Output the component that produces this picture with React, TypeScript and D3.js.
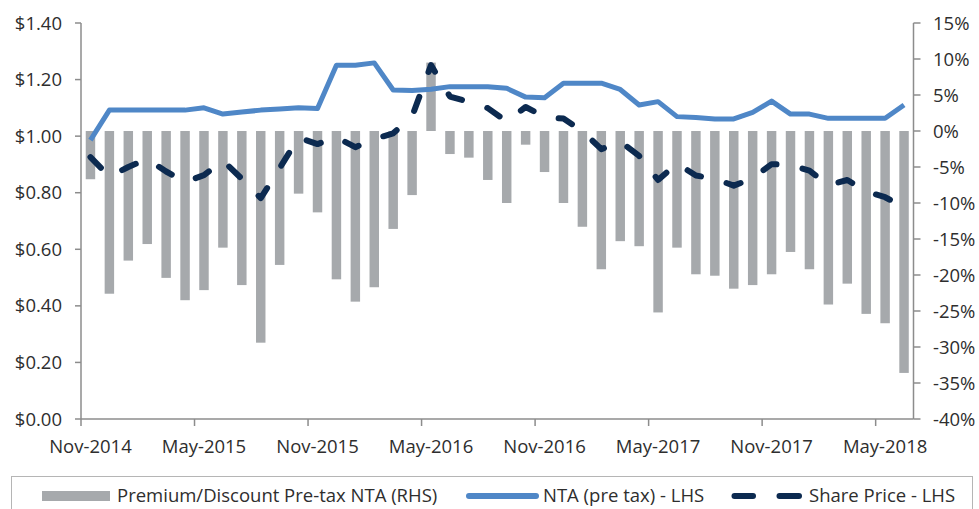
import React, { useRef, useEffect } from 'react';
import * as d3 from 'd3';

const months = [
  'Nov-2014', 'Dec-2014', 'Jan-2015', 'Feb-2015', 'Mar-2015', 'Apr-2015', 'May-2015', 'Jun-2015',
  'Jul-2015', 'Aug-2015', 'Sep-2015', 'Oct-2015', 'Nov-2015', 'Dec-2015', 'Jan-2016', 'Feb-2016',
  'Mar-2016', 'Apr-2016', 'May-2016', 'Jun-2016', 'Jul-2016', 'Aug-2016', 'Sep-2016', 'Oct-2016',
  'Nov-2016', 'Dec-2016', 'Jan-2017', 'Feb-2017', 'Mar-2017', 'Apr-2017', 'May-2017', 'Jun-2017',
  'Jul-2017', 'Aug-2017', 'Sep-2017', 'Oct-2017', 'Nov-2017', 'Dec-2017', 'Jan-2018', 'Feb-2018',
  'Mar-2018', 'Apr-2018', 'May-2018', 'Jun-2018'
];

// premium / discount to pre-tax NTA, in % (RHS)
const premium = [
  -6.7, -22.6, -18.0, -15.7, -20.4, -23.5, -22.1, -16.2, -21.4, -29.4,
  -18.6, -8.7, -11.3, -20.6, -23.7, -21.7, -13.6, -8.9, 9.5, -3.2,
  -3.7, -6.8, -10.0, -1.9, -5.7, -10.0, -13.3, -19.2, -15.3, -16.0,
  -25.2, -16.2, -19.9, -20.1, -21.9, -21.4, -19.9, -16.8, -19.2, -24.1,
  -21.2, -25.4, -26.7, -33.6
];

// NTA (pre tax), $ (LHS)
const nta = [
  0.986, 1.092, 1.092, 1.092, 1.092, 1.092, 1.100, 1.078, 1.085, 1.092,
  1.096, 1.100, 1.098, 1.251, 1.251, 1.259, 1.163, 1.161, 1.166, 1.175,
  1.175, 1.175, 1.169, 1.138, 1.136, 1.187, 1.187, 1.187, 1.165, 1.110,
  1.122, 1.069, 1.066, 1.061, 1.061, 1.084, 1.124, 1.078, 1.078, 1.063,
  1.063, 1.063, 1.063, 1.110
];

// share price, $ (LHS)
const sharePrice = [
  0.926, 0.857, 0.891, 0.919, 0.875, 0.838, 0.862, 0.914, 0.849, 0.781,
  0.887, 0.995, 0.972, 0.996, 0.961, 0.990, 1.010, 1.070, 1.251, 1.140,
  1.121, 1.099, 1.052, 1.103, 1.068, 1.062, 1.018, 0.954, 0.981, 0.930,
  0.845, 0.903, 0.861, 0.849, 0.825, 0.851, 0.901, 0.898, 0.878, 0.827,
  0.845, 0.804, 0.784, 0.749
];

const xTickLabels = ['Nov-2014', 'May-2015', 'Nov-2015', 'May-2016', 'Nov-2016', 'May-2017', 'Nov-2017', 'May-2018'];
const leftTicks = [0, 0.2, 0.4, 0.6, 0.8, 1.0, 1.2, 1.4];
const rightTicks = [-40, -35, -30, -25, -20, -15, -10, -5, 0, 5, 10, 15];

const W = 979;
const H = 509;
const FONT = "'Open Sans', sans-serif";
const FS = '18.5px';
const TEXT = '#2e2e2e';
const AXIS = '#8c8c8c';
const BAR = '#a6a9ac';
const BLUE = '#4f87c7';
const NAVY = '#0c2a50';

const App = () => {
  const svgRef = useRef<SVGSVGElement>(null);

  useEffect(() => {
    const svg = d3.select(svgRef.current);
    svg.selectAll('*').remove();

    const left = 81, right = 913.5, top = 23, bottom = 419;

    const x = d3.scaleBand<string>()
      .domain(months)
      .range([left, right])
      .paddingInner(0.5)
      .paddingOuter(0.25);
    const step = x.step();
    const cx = (m: string) => (x(m) as number) + x.bandwidth() / 2;

    const yL = d3.scaleLinear().domain([0, 1.4]).range([bottom, top]);
    const yR = d3.scaleLinear().domain([-40, 15]).range([bottom, top]);

    // bars
    svg.append('g')
      .selectAll('rect')
      .data(premium)
      .enter()
      .append('rect')
      .attr('x', (d, i) => x(months[i]) as number)
      .attr('width', x.bandwidth())
      .attr('y', d => yR(Math.max(0, d)))
      .attr('height', d => Math.abs(yR(d) - yR(0)))
      .attr('fill', BAR);

    // axes lines
    const axes = svg.append('g').attr('stroke', AXIS).attr('stroke-width', 1.5);
    axes.append('line').attr('x1', left).attr('x2', left).attr('y1', top).attr('y2', bottom);
    axes.append('line').attr('x1', right).attr('x2', right).attr('y1', top).attr('y2', bottom);
    axes.append('line').attr('x1', left).attr('x2', right).attr('y1', bottom).attr('y2', bottom);

    axes.selectAll('.lt')
      .data(leftTicks)
      .enter()
      .append('line')
      .attr('x1', left - 6).attr('x2', left)
      .attr('y1', d => yL(d)).attr('y2', d => yL(d));
    axes.selectAll('.rt')
      .data(rightTicks)
      .enter()
      .append('line')
      .attr('x1', right).attr('x2', right + 7)
      .attr('y1', d => yR(d)).attr('y2', d => yR(d));
    axes.selectAll('.bt')
      .data(xTickLabels)
      .enter()
      .append('line')
      .attr('x1', d => (x(d) as number) - (step - x.bandwidth()) / 2)
      .attr('x2', d => (x(d) as number) - (step - x.bandwidth()) / 2)
      .attr('y1', bottom).attr('y2', bottom + 7);

    // tick labels
    svg.append('g')
      .selectAll('text')
      .data(leftTicks)
      .enter()
      .append('text')
      .attr('x', 62)
      .attr('y', d => yL(d) + 6.5)
      .attr('text-anchor', 'end')
      .style('font-family', FONT)
      .style('font-size', FS)
      .style('fill', TEXT)
      .text(d => '$' + d.toFixed(2));

    svg.append('g')
      .selectAll('text')
      .data(rightTicks)
      .enter()
      .append('text')
      .attr('x', 933)
      .attr('y', d => yR(d) + 6.5)
      .style('font-family', FONT)
      .style('font-size', FS)
      .style('fill', TEXT)
      .text(d => d + '%');

    svg.append('g')
      .selectAll('text')
      .data(xTickLabels)
      .enter()
      .append('text')
      .attr('x', d => cx(d))
      .attr('y', 453)
      .attr('text-anchor', 'middle')
      .style('font-family', FONT)
      .style('font-size', FS)
      .style('fill', TEXT)
      .text(d => d);

    // lines
    const line = d3.line<number>()
      .x((d, i) => cx(months[i]))
      .y(d => yL(d));

    svg.append('path')
      .attr('d', line(nta))
      .attr('fill', 'none')
      .attr('stroke', BLUE)
      .attr('stroke-width', 5)
      .attr('stroke-linejoin', 'round');

    svg.append('path')
      .attr('d', line(sharePrice))
      .attr('fill', 'none')
      .attr('stroke', NAVY)
      .attr('stroke-width', 6)
      .attr('stroke-linecap', 'round')
      .attr('stroke-linejoin', 'round')
      .attr('stroke-dasharray', '15 26.5');

    // legend
    const lg = svg.append('g');
    lg.append('rect')
      .attr('x', 11.5).attr('y', 476.5)
      .attr('width', 961).attr('height', 60)
      .attr('fill', 'none')
      .attr('stroke', '#b5b5b5');

    lg.append('rect')
      .attr('x', 42).attr('y', 491).attr('width', 68).attr('height', 10)
      .attr('fill', BAR);
    lg.append('line')
      .attr('x1', 469).attr('x2', 536).attr('y1', 496).attr('y2', 496)
      .attr('stroke', BLUE).attr('stroke-width', 6).attr('stroke-linecap', 'round');
    [[734.5, 753], [779.5, 799]].forEach(([a, b]) => {
      lg.append('line')
        .attr('x1', a).attr('x2', b).attr('y1', 496).attr('y2', 496)
        .attr('stroke', NAVY).attr('stroke-width', 6).attr('stroke-linecap', 'round');
    });

    const legendText = [
      { x: 117, label: 'Premium/Discount Pre-tax NTA (RHS)' },
      { x: 543, label: 'NTA (pre tax) - LHS' },
      { x: 809, label: 'Share Price - LHS' }
    ];
    lg.selectAll('text')
      .data(legendText)
      .enter()
      .append('text')
      .attr('x', d => d.x)
      .attr('y', 502)
      .style('font-family', FONT)
      .style('font-size', FS)
      .style('fill', TEXT)
      .text(d => d.label);
  }, []);

  return (
    <div style={{ position: 'absolute', left: 0, top: 0 }}>
      <svg ref={svgRef} width={W} height={H} style={{ display: 'block', background: '#fff' }}></svg>
    </div>
  );
};

export default App;
